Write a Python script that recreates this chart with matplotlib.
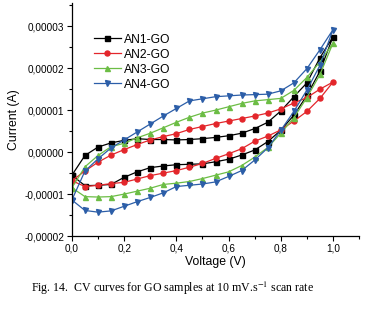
import numpy as np
import matplotlib
matplotlib.use("Agg")
import matplotlib.pyplot as plt
from matplotlib.ticker import FuncFormatter, MultipleLocator

# --- data (current in units of 1e-5 A) ---
voltage = [0.00, 0.05, 0.10, 0.15, 0.20, 0.25, 0.30, 0.35, 0.40, 0.45, 0.50,
           0.55, 0.60, 0.65, 0.70, 0.75, 0.80, 0.85, 0.90, 0.95, 1.00,
           0.95, 0.90, 0.85, 0.80, 0.75, 0.70, 0.65, 0.60, 0.55, 0.50,
           0.45, 0.40, 0.35, 0.30, 0.25, 0.20, 0.15, 0.10, 0.05, 0.00]

an1 = [-0.55, -0.08, 0.12, 0.22, 0.28, 0.32, 0.30, 0.30, 0.29, 0.30, 0.32,
       0.35, 0.39, 0.45, 0.56, 0.71, 0.98, 1.32, 1.65, 2.25, 2.75,
       1.93, 1.35, 0.88, 0.52, 0.25, 0.05, -0.07, -0.17, -0.23, -0.28,
       -0.29, -0.30, -0.33, -0.37, -0.47, -0.60, -0.77, -0.79, -0.80, -0.55]

an2 = [-0.68, -0.45, -0.24, -0.07, 0.06, 0.18, 0.29, 0.37, 0.44, 0.54, 0.61,
       0.68, 0.74, 0.80, 0.86, 0.93, 1.03, 1.17, 1.30, 1.50, 1.67,
       1.28, 0.97, 0.74, 0.53, 0.38, 0.26, 0.08, -0.04, -0.15, -0.27,
       -0.36, -0.44, -0.50, -0.56, -0.64, -0.72, -0.75, -0.79, -0.82, -0.68]

an3 = [-0.85, -0.35, -0.08, 0.13, 0.21, 0.34, 0.45, 0.58, 0.71, 0.83, 0.93,
       1.00, 1.08, 1.16, 1.22, 1.25, 1.28, 1.47, 1.78, 2.15, 2.60,
       1.85, 1.30, 0.82, 0.45, 0.11, -0.12, -0.32, -0.47, -0.55, -0.63,
       -0.70, -0.74, -0.77, -0.86, -0.93, -1.00, -1.06, -1.07, -1.06, -0.85]

an4 = [-1.14, -0.45, -0.16, 0.10, 0.29, 0.48, 0.67, 0.86, 1.04, 1.22, 1.27,
       1.32, 1.34, 1.36, 1.37, 1.38, 1.46, 1.65, 1.99, 2.44, 2.92,
       2.07, 1.48, 0.97, 0.52, 0.10, -0.19, -0.44, -0.58, -0.71, -0.76,
       -0.79, -0.82, -0.97, -1.08, -1.18, -1.29, -1.40, -1.43, -1.39, -1.14]

labels = ["AN1-GO", "AN2-GO", "AN3-GO", "AN4-GO"]
series = [an1, an2, an3, an4]

COLORS = ["#000000", "#e3262b", "#6cbd45", "#2c5ea8"]
MARKERS = ["s", "o", "^", "v"]

plt.rcParams["font.family"] = ["Liberation Sans", "DejaVu Sans"]
plt.rcParams["mathtext.fontset"] = "stix"

fig = plt.figure(figsize=(3.65, 3.09), dpi=100, facecolor="white")
ax = fig.add_axes([0.197, 0.236, 0.787, 0.754])

v = np.array(voltage)
for vals, lab, col, mk in zip(series, labels, COLORS, MARKERS):
    ax.plot(v, np.array(vals) * 1e-5, color=col, marker=mk, markersize=3.6,
            lw=0.9, label=lab)

ax.set_xlim(0, 1.1)
ax.set_ylim(-2e-5, 3.55e-5)

ax.xaxis.set_major_locator(MultipleLocator(0.2))
ax.xaxis.set_minor_locator(MultipleLocator(0.1))
ax.yaxis.set_major_locator(MultipleLocator(1e-5))
ax.yaxis.set_minor_locator(MultipleLocator(0.5e-5))
ax.xaxis.set_major_formatter(FuncFormatter(lambda x, p: f"{x:.1f}".replace(".", ",")))
ax.yaxis.set_major_formatter(FuncFormatter(lambda y, p: f"{y:.5f}".replace(".", ",").replace("-0,00000", "0,00000")))

ax.tick_params(which="both", direction="out", labelsize=7.2, width=0.8, pad=2)
ax.tick_params(which="major", length=3.5)
ax.tick_params(which="minor", length=2)
for side in ("top", "right"):
    ax.spines[side].set_visible(False)
for side in ("left", "bottom"):
    ax.spines[side].set_linewidth(0.9)

ax.set_xlabel("Voltage (V)", fontsize=8.8, labelpad=2)
ax.set_ylabel("Current (A)", fontsize=8.8, labelpad=3)

ax.legend(loc="upper left", bbox_to_anchor=(0.06, 0.89), frameon=False,
          fontsize=8.7, handlelength=2.2, handletextpad=0.3, labelspacing=0.25,
          borderaxespad=0)

fig.text(0.085, 0.068, "Fig. 14.  CV curves for GO samples at 10 mV.s$^{-1}$ scan rate",
         family="Liberation Serif", fontsize=8.6, ha="left", va="center")

fig.savefig("out.png", dpi=100, facecolor="white")
